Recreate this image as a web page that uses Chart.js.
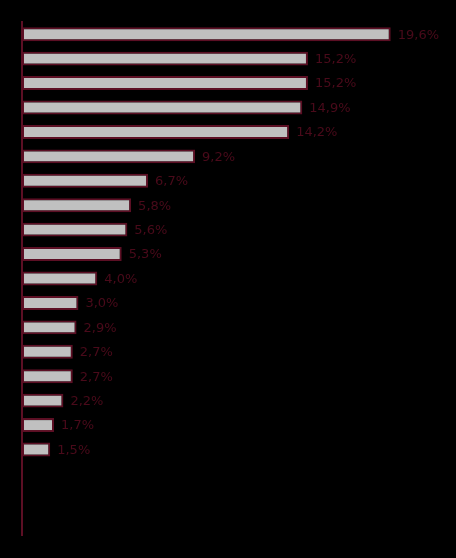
<!DOCTYPE html>
<html>
<head>
<meta charset="utf-8">
<script src="https://cdn.jsdelivr.net/npm/chart.js@4/dist/chart.umd.min.js"></script>
<style>
  html, body { margin: 0; padding: 0; background: #000; }
  #wrap { width: 456px; height: 558px; }
</style>
</head>
<body>
<div id="wrap"><canvas id="barChart"></canvas></div>
<script>
// 21 slots on the category axis, last three are empty
const categories = ['', '', '', '', '', '', '', '', '', '', '', '', '', '', '', '', '', '', '', '', ''];
const values = [19.6, 15.2, 15.2, 14.9, 14.2, 9.2, 6.7, 5.8, 5.6, 5.3, 4.0, 3.0, 2.9, 2.7, 2.7, 2.2, 1.7, 1.5, null, null, null];
const valueMax = 21.9;

const labelColor = '#4a0a1a';

// value labels to the right of each bar, with comma decimals
const valueLabels = {
  id: 'valueLabels',
  afterDatasetsDraw(chart) {
    const ctx = chart.ctx;
    const meta = chart.getDatasetMeta(0);
    ctx.save();
    ctx.font = '13px "DejaVu Sans"';
    ctx.fillStyle = labelColor;
    ctx.textBaseline = 'middle';
    meta.data.forEach((bar, i) => {
      const v = values[i];
      if (v == null) return;
      const txt = v.toFixed(1).replace('.', ',') + '%';
      ctx.fillText(txt, bar.x + 7, bar.y + 1);
    });
    ctx.restore();
  },
};

new Chart(document.getElementById('barChart'), {
  type: 'bar',
  data: {
    labels: categories,
    datasets: [{
      data: values,
      backgroundColor: '#c0c0c0',
      borderColor: '#5c0f24',
      borderWidth: 2,
      borderSkipped: false,
      categoryPercentage: 1,
      barPercentage: 0.57,
    }],
  },
  options: {
    indexAxis: 'y',
    responsive: true,
    maintainAspectRatio: false,
    animation: false,
    layout: { padding: { top: 22, bottom: 23, left: 22, right: 22 } },
    scales: {
      x: { display: false, min: 0, max: valueMax },
      y: {
        ticks: { display: false },
        grid: { display: false, drawTicks: false },
        border: { display: true, color: '#5c0f24', width: 2 },
      },
    },
    plugins: {
      legend: { display: false },
      tooltip: { enabled: false },
    },
  },
  plugins: [valueLabels],
});
</script>
</body>
</html>
